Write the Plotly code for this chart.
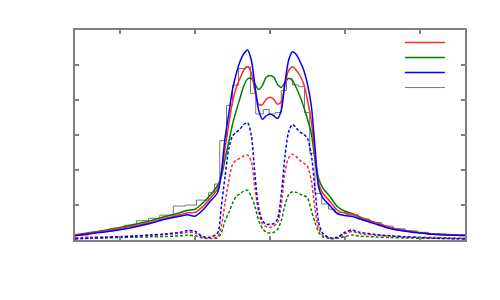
import plotly.graph_objects as go

# sample positions of the smooth curves
x_curve = [-2.6, -2.4, -2.2, -2.0, -1.8, -1.6, -1.4, -1.2, -1.1, -1.0, -0.9, -0.8, -0.7, -0.65,
           -0.6, -0.55, -0.5, -0.45, -0.4, -0.35, -0.3, -0.25, -0.2, -0.15, -0.1, -0.05, 0.0,
           0.05, 0.1, 0.15, 0.2, 0.25, 0.3, 0.35, 0.4, 0.45, 0.5, 0.55, 0.6, 0.65, 0.7,
           0.8, 0.9, 1.0, 1.1, 1.2, 1.4, 1.6, 1.8, 2.0, 2.2, 2.4, 2.6]

red_total = [0.14, 0.2, 0.26, 0.33, 0.41, 0.5, 0.62, 0.72, 0.78, 0.79, 0.95, 1.18, 1.45, 1.85,
             2.6, 3.3, 3.95, 4.35, 4.62, 4.85, 4.95, 4.78, 4.25, 3.87, 3.87, 4.02, 4.08,
             4.02, 3.88, 3.95, 4.45, 4.85, 4.95, 4.85, 4.7, 4.45, 4.0, 3.4, 2.4, 1.6, 1.35,
             1.1, 0.85, 0.77, 0.73, 0.64, 0.5, 0.36, 0.27, 0.21, 0.17, 0.15, 0.14]

green_total = [0.15, 0.21, 0.28, 0.36, 0.45, 0.55, 0.67, 0.78, 0.85, 0.88, 1.05, 1.27, 1.55, 1.8,
               2.3, 2.8, 3.3, 3.7, 4.05, 4.4, 4.6, 4.62, 4.45, 4.3, 4.42, 4.65, 4.7,
               4.65, 4.45, 4.36, 4.5, 4.62, 4.55, 4.35, 4.1, 3.8, 3.45, 3.05, 2.3, 1.75, 1.5,
               1.24, 0.95, 0.82, 0.75, 0.66, 0.5, 0.36, 0.27, 0.21, 0.17, 0.15, 0.14]

blue_total = [0.12, 0.18, 0.23, 0.29, 0.37, 0.47, 0.59, 0.68, 0.72, 0.68, 0.85, 1.1, 1.35, 1.9,
              2.9, 3.6, 4.3, 4.75, 5.1, 5.32, 5.43, 5.15, 4.4, 3.7, 3.45, 3.55, 3.6,
              3.55, 3.47, 3.7, 4.5, 5.15, 5.38, 5.3, 5.1, 4.85, 4.45, 3.85, 2.65, 1.5, 1.22,
              0.98, 0.75, 0.7, 0.67, 0.6, 0.46, 0.33, 0.25, 0.2, 0.16, 0.14, 0.12]

blue_part = [0.03, 0.05, 0.07, 0.09, 0.11, 0.14, 0.17, 0.22, 0.27, 0.25, 0.1, 0.08, 0.2, 0.95,
             1.8, 2.6, 2.97, 3.08, 3.17, 3.3, 3.35, 3.0, 1.85, 0.9, 0.55, 0.45, 0.45,
             0.47, 0.6, 1.3, 2.4, 3.1, 3.3, 3.2, 3.08, 3.02, 2.9, 2.45, 1.45, 0.5, 0.2,
             0.06, 0.08, 0.22, 0.28, 0.22, 0.16, 0.12, 0.09, 0.07, 0.05, 0.04, 0.03]

red_part = [0.07, 0.08, 0.09, 0.1, 0.12, 0.14, 0.16, 0.19, 0.22, 0.2, 0.08, 0.05, 0.1, 0.4,
            1.05, 1.7, 2.15, 2.28, 2.33, 2.4, 2.43, 2.25, 1.45, 0.8, 0.46, 0.38, 0.36,
            0.4, 0.5, 1.0, 1.95, 2.35, 2.45, 2.38, 2.27, 2.2, 2.1, 1.7, 0.9, 0.32, 0.15,
            0.05, 0.06, 0.18, 0.24, 0.18, 0.14, 0.11, 0.09, 0.08, 0.07, 0.06, 0.05]

green_part = [0.05, 0.05, 0.06, 0.07, 0.08, 0.09, 0.1, 0.12, 0.14, 0.12, 0.06, 0.04, 0.06, 0.2,
              0.55, 0.78, 1.05, 1.25, 1.32, 1.4, 1.42, 1.25, 0.95, 0.55, 0.33, 0.22, 0.2,
              0.22, 0.3, 0.55, 1.0, 1.3, 1.38, 1.36, 1.31, 1.27, 1.2, 0.85, 0.5, 0.22, 0.1,
              0.04, 0.05, 0.1, 0.14, 0.11, 0.09, 0.07, 0.06, 0.05, 0.05, 0.04, 0.04]

# histogram: bin edges and heights
hist_edges = [-2.6, -2.42, -2.27, -2.1, -1.94, -1.78, -1.62, -1.47, -1.29, -1.13, -0.98, -0.82,
              -0.74, -0.67, -0.58, -0.5, -0.42, -0.33, -0.26, -0.19, -0.09, -0.01, 0.07, 0.15,
              0.22, 0.3, 0.38, 0.46, 0.53, 0.6, 0.69, 0.78, 0.87, 1.02, 1.18, 1.33, 1.49,
              1.64, 1.8, 1.96, 2.11, 2.27, 2.42, 2.6]
hist_counts = [0.14, 0.22, 0.26, 0.3, 0.42, 0.55, 0.62, 0.71, 0.97, 1.0, 1.14, 1.35,
               1.6, 2.84, 3.85, 4.42, 4.9, 4.95, 4.19, 3.6, 3.73, 3.6, 3.64,
               4.27, 4.61, 4.43, 4.38, 3.64, 2.48, 1.33, 1.03, 0.88, 0.78, 0.72, 0.6, 0.5,
               0.4, 0.32, 0.26, 0.22, 0.18, 0.16, 0.14]

RED, GREEN, BLUE, GRAY = "#ff2a2a", "#008000", "#0000ff", "#777777"
AX = "#808080"

fig = go.Figure()

hist_y = hist_counts + [hist_counts[-1]]
fig.add_trace(go.Scatter(x=hist_edges, y=hist_y, mode="lines", line=dict(color=GRAY, width=1, shape="hv"),
                         name="", legend="legend4"))

for ys, c in [(green_part, GREEN), (red_part, RED), (blue_part, BLUE)]:
    fig.add_trace(go.Scatter(x=x_curve, y=ys, mode="lines", showlegend=False,
                             line=dict(color=c, width=1.5, dash="3px,2px", shape="spline", smoothing=0.8)))

for ys, c, lg in [(green_total, GREEN, "legend2"), (red_total, RED, "legend"), (blue_total, BLUE, "legend3")]:
    fig.add_trace(go.Scatter(x=x_curve, y=ys, mode="lines", name="", legend=lg,
                             line=dict(color=c, width=1.5, shape="spline", smoothing=0.8)))

axis_common = dict(showgrid=False, zeroline=False, showline=True, linecolor=AX, linewidth=1.5,
                   mirror="ticks", ticks="inside", ticklen=4, tickwidth=1.5, tickcolor=AX,
                   showticklabels=False)

def leg(y):
    return dict(x=0.833, y=y, xanchor="left", yanchor="top", bgcolor="rgba(0,0,0,0)",
                font=dict(size=8), itemwidth=40)

fig.update_layout(
    width=492, height=292,
    margin=dict(l=67, r=35, t=22, b=60),
    paper_bgcolor="white", plot_bgcolor="white",
    xaxis=dict(range=[-2.6, 2.6], tickvals=[-2, -1, 0, 1, 2], **axis_common),
    yaxis=dict(range=[0, 6], tickvals=[1, 2, 3, 4, 5], **axis_common),
    legend=leg(1.0095), legend2=leg(0.938), legend3=leg(0.867), legend4=leg(0.795),
)

fig.write_html("out.html")
